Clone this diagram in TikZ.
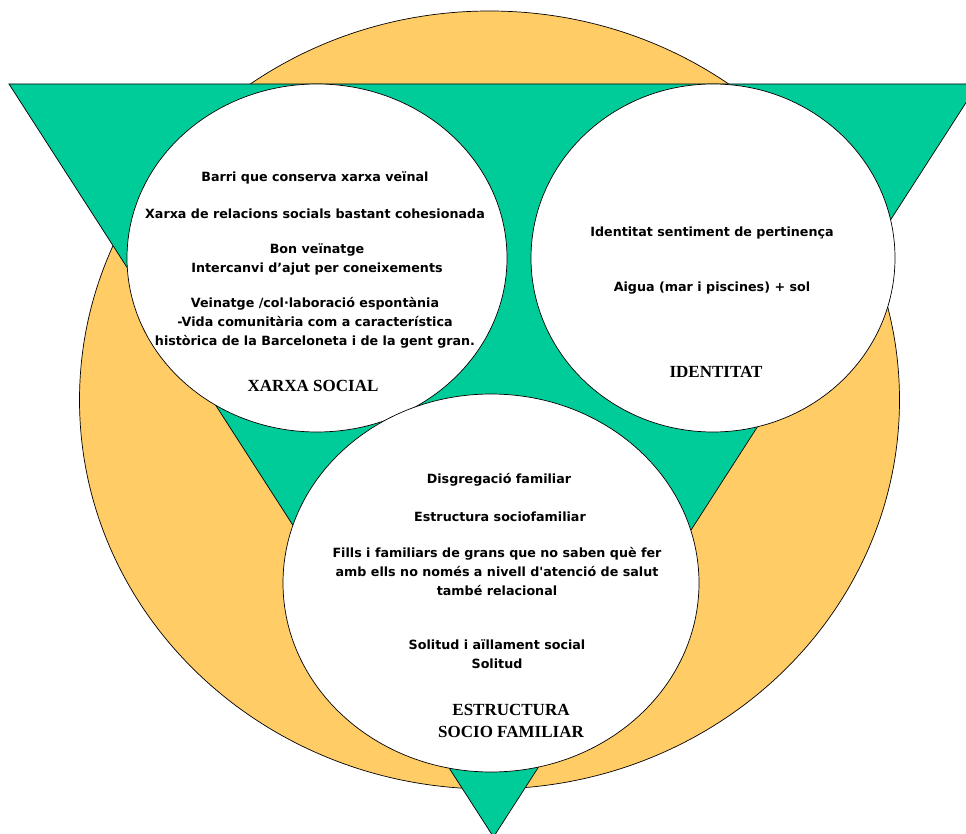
\documentclass[tikz,border=0pt]{standalone}
\usepackage{fontspec}
\setmainfont{DejaVu Sans}
\newfontfamily\headfont{Liberation Serif}
\definecolor{sunorange}{RGB}{255,204,102}
\definecolor{seagreen}{RGB}{0,204,153}

\begin{document}
\begin{tikzpicture}[x=1pt,y=-1pt,line width=.7pt,
    item/.style={align=center,font=\bfseries\fontsize{12.7}{19}\selectfont},
    head/.style={align=center,font=\headfont\bfseries\fontsize{17}{22}\selectfont}]
			\clip (0,0) rectangle (966,834);
			\draw[fill=sunorange] (489.5,400) ellipse [x radius=410pt, y radius=389pt];
			\draw[fill=seagreen] (9,84) -- (978,84) -- (493.5,837) -- cycle;
			\draw[fill=white] (317,258) ellipse [x radius=190pt, y radius=174pt];
			\draw[fill=white] (713,258) ellipse [x radius=182pt, y radius=174pt];
			\draw[fill=white] (491,583) ellipse [x radius=208pt, y radius=189pt];
			\node[item] (barri) at (315,178) {Barri que conserva xarxa veïnal};
			\node[item] (xarxa) at (315,214) {Xarxa de relacions socials bastant cohesionada};
			\node[item] (bon) at (317,259) {Bon veïnatge\\Intercanvi d’ajut per coneixements};
			\node[item] (veinatge) at (315,323) {Veinatge /col·laboració espontània\\-Vida comunitària com a característica\\històrica de la Barceloneta i de la gent gran.};
			\node[head] (social) at (313,386) {XARXA SOCIAL};
			\node[item] (sentiment) at (712,233) {Identitat sentiment de pertinença};
			\node[item] (aigua) at (712,288) {Aigua (mar i piscines) + sol};
			\node[head] (identitat) at (716,372) {IDENTITAT};
			\node[item] (disgregacio) at (499,480) {Disgregació familiar};
			\node[item] (socio) at (500,517) {Estructura sociofamiliar};
			\node[item] (fills) at (497,572) {Fills i familiars de grans que no saben què fer\\amb ells no només a nivell d\textquotesingle atenció de salut\\també relacional};
			\node[item] (solitud) at (497,654) {Solitud i aïllament social\\Solitud};
			\node[head] (estructura) at (511,721) {ESTRUCTURA\\SOCIO FAMILIAR};
		\end{tikzpicture}
\end{document}
